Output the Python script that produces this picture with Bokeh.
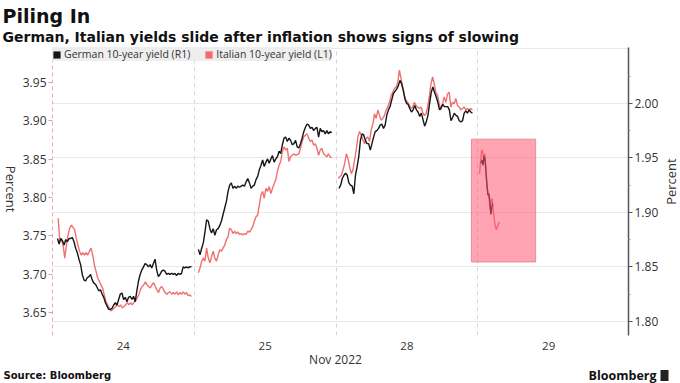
import numpy as np
from bokeh.plotting import figure
from bokeh.layouts import column, row
from bokeh.models import (Range1d, LinearAxis, FixedTicker, Label, Legend,
                          LegendItem, NumeralTickFormatter)
from bokeh.embed import file_html
from bokeh.resources import INLINE

# ---------------- data ----------------
day_labels = ["24", "25", "28", "29"]
axis_month = "Nov 2022"

# Italian 10-year yield (left axis, %)
italian_24 = [3.773, 3.743, 3.745, 3.738, 3.721, 3.738, 3.751, 3.760, 3.764, 3.761,
              3.758, 3.747, 3.738, 3.730, 3.725, 3.728, 3.725, 3.728, 3.725, 3.730,
              3.734, 3.725, 3.712, 3.704, 3.695, 3.691, 3.686, 3.682, 3.673, 3.665,
              3.660, 3.656, 3.652, 3.654, 3.656, 3.658, 3.660, 3.658, 3.660, 3.656,
              3.658, 3.660, 3.663, 3.660, 3.663, 3.660, 3.663, 3.665, 3.669, 3.673,
              3.680, 3.684, 3.686, 3.690, 3.686, 3.684, 3.682, 3.686, 3.689, 3.684,
              3.680, 3.676, 3.682, 3.684, 3.680, 3.676, 3.674, 3.676, 3.677, 3.674,
              3.676, 3.674, 3.677, 3.673, 3.676, 3.674, 3.677, 3.674, 3.676, 3.672,
              3.673, 3.671]
italian_25 = [3.702, 3.708, 3.717, 3.721, 3.717, 3.734, 3.721, 3.715, 3.723, 3.730,
              3.721, 3.717, 3.725, 3.732, 3.730, 3.734, 3.738, 3.745, 3.749, 3.760,
              3.758, 3.753, 3.756, 3.753, 3.755, 3.752, 3.753, 3.751, 3.753, 3.752,
              3.756, 3.755, 3.758, 3.762, 3.769, 3.775, 3.777, 3.790, 3.803, 3.808,
              3.799, 3.812, 3.808, 3.814, 3.805, 3.812, 3.818, 3.823, 3.834, 3.842,
              3.847, 3.860, 3.866, 3.862, 3.864, 3.847, 3.853, 3.855, 3.857, 3.855,
              3.856, 3.857, 3.864, 3.873, 3.879, 3.881, 3.883, 3.877, 3.873, 3.875,
              3.868, 3.870, 3.864, 3.855, 3.862, 3.864, 3.857, 3.855, 3.853, 3.857,
              3.853, 3.852]
italian_28 = [3.825, 3.827, 3.829, 3.836, 3.844, 3.857, 3.851, 3.840, 3.831, 3.836,
              3.849, 3.862, 3.879, 3.886, 3.881, 3.875, 3.870, 3.877, 3.879, 3.873,
              3.888, 3.896, 3.909, 3.903, 3.914, 3.907, 3.901, 3.903, 3.907, 3.914,
              3.918, 3.924, 3.933, 3.937, 3.942, 3.944, 3.950, 3.966, 3.955, 3.944,
              3.933, 3.927, 3.924, 3.920, 3.916, 3.918, 3.924, 3.920, 3.918, 3.916,
              3.918, 3.911, 3.907, 3.909, 3.918, 3.931, 3.948, 3.957, 3.948, 3.937,
              3.933, 3.922, 3.914, 3.922, 3.931, 3.924, 3.935, 3.937, 3.918, 3.924,
              3.922, 3.929, 3.920, 3.918, 3.914, 3.916, 3.918, 3.914, 3.916, 3.914,
              3.916, 3.914]
italian_29 = [3.831, 3.849, 3.862, 3.860, 3.847, 3.857, 3.838, 3.816, 3.805, 3.799,
              3.784, 3.792, 3.799, 3.784, 3.773, 3.764, 3.758, 3.761, 3.765, 3.768]

# German 10-year yield (right axis, %)
german_24 = [1.876, 1.871, 1.876, 1.874, 1.870, 1.875, 1.873, 1.876, 1.876, 1.877,
             1.873, 1.867, 1.863, 1.857, 1.852, 1.843, 1.838, 1.837, 1.840, 1.841,
             1.843, 1.838, 1.835, 1.834, 1.831, 1.828, 1.829, 1.825, 1.822, 1.817,
             1.814, 1.811, 1.811, 1.812, 1.815, 1.817, 1.815, 1.820, 1.825, 1.826,
             1.820, 1.822, 1.818, 1.822, 1.823, 1.820, 1.823, 1.818, 1.828, 1.837,
             1.843, 1.847, 1.850, 1.853, 1.852, 1.850, 1.852, 1.849, 1.853, 1.857,
             1.847, 1.841, 1.843, 1.846, 1.847, 1.846, 1.843, 1.844, 1.843, 1.844,
             1.843, 1.844, 1.842, 1.844, 1.843, 1.844, 1.850, 1.849, 1.850, 1.849,
             1.850, 1.850]
german_25 = [1.866, 1.861, 1.867, 1.872, 1.882, 1.893, 1.892, 1.885, 1.881, 1.885,
             1.879, 1.884, 1.885, 1.888, 1.892, 1.898, 1.904, 1.910, 1.919, 1.925,
             1.927, 1.922, 1.924, 1.922, 1.924, 1.923, 1.924, 1.925, 1.924, 1.928,
             1.931, 1.927, 1.922, 1.924, 1.925, 1.930, 1.933, 1.939, 1.943, 1.948,
             1.942, 1.946, 1.949, 1.945, 1.949, 1.952, 1.946, 1.949, 1.951, 1.956,
             1.954, 1.962, 1.968, 1.969, 1.965, 1.968, 1.966, 1.962, 1.963, 1.966,
             1.960, 1.959, 1.963, 1.968, 1.974, 1.978, 1.981, 1.980, 1.977, 1.978,
             1.975, 1.977, 1.978, 1.969, 1.977, 1.974, 1.975, 1.972, 1.975, 1.972,
             1.974, 1.973]
german_28 = [1.922, 1.925, 1.931, 1.934, 1.936, 1.934, 1.927, 1.925, 1.924, 1.917,
             1.934, 1.942, 1.951, 1.966, 1.972, 1.971, 1.966, 1.963, 1.963, 1.957,
             1.963, 1.969, 1.974, 1.975, 1.977, 1.980, 1.981, 1.977, 1.980, 1.989,
             1.994, 1.997, 2.003, 2.009, 2.011, 2.013, 2.016, 2.021, 2.018, 2.012,
             2.004, 2.000, 1.999, 1.995, 1.992, 1.994, 1.998, 1.994, 1.992, 1.988,
             1.991, 1.985, 1.979, 1.983, 1.989, 2.000, 2.010, 2.015, 2.010, 2.006,
             2.001, 1.994, 1.996, 1.999, 1.997, 1.997, 1.997, 1.994, 1.984, 1.987,
             1.991, 1.989, 1.988, 1.984, 1.983, 1.984, 1.991, 1.993, 1.991, 1.994,
             1.992, 1.991]
german_29 = [1.945, 1.948, 1.943, 1.952, 1.949, 1.937, 1.925, 1.916, 1.917, 1.910,
             1.898, 1.905, 1.908]

# session windows (fraction of each trading day covered by quotes)
italian_sessions = [(0.040, 0.980), (0.029, 0.970), (0.014, 0.962), (0.013, 0.152)]
german_sessions = [(0.035, 0.980), (0.029, 0.970), (0.021, 0.962), (0.023, 0.106)]

left_ticks = [3.65, 3.70, 3.75, 3.80, 3.85, 3.90, 3.95]
right_ticks = [1.80, 1.85, 1.90, 1.95, 2.00]
right_minor = [1.825, 1.875, 1.925, 1.975, 2.025]
right_grid = [1.80, 1.85, 1.90, 1.95, 2.00, 2.05]

# highlight box (day units, Italian yield units)
box_start, box_end = 2.955, 3.408
box_low, box_high = 3.716, 3.876

RED = "#f07070"
BLACK = "#161616"
TXT = "#333333"
FONT = "Open Sans"
W = 680
HEAD_H, MAIN_H, FOOT_H = 47, 305, 31
LEFT_W, RIGHT_W = 19, 19


def text_panel(width, height):
    f = figure(width=width, height=height, output_backend="svg", toolbar_location=None,
               x_range=Range1d(0, width), y_range=Range1d(height, 0),
               min_border=0, outline_line_color=None)
    f.axis.visible = False
    f.grid.visible = False
    return f


def lab(f, x, y, text, size, bold=False, align="left", font=FONT, color=TXT, angle=0.0):
    f.add_layout(Label(x=x, y=y, text=text, text_font=font, text_font_size=size,
                       text_font_style="bold" if bold else "normal", angle=angle,
                       text_align=align, text_baseline="middle", text_color=color))


# ---------------- header ----------------
head = text_panel(W, HEAD_H)
lab(head, 2, 15, "Piling In", "19px", bold=True, font="DejaVu Sans", color="#111111")
lab(head, 2, 36, "German, Italian yields slide after inflation shows signs of slowing",
    "14px", bold=True, font="DejaVu Sans", color="#111111")

# ---------------- side labels ----------------
left_side = text_panel(LEFT_W, MAIN_H)
lab(left_side, 10, 150, "Percent", "13px", align="center", angle=-np.pi / 2)
right_side = text_panel(RIGHT_W, MAIN_H)
lab(right_side, 9.5, 142, "Percent", "13px", align="center", angle=np.pi / 2)

# ---------------- main chart ----------------
p = figure(width=W - LEFT_W - RIGHT_W, height=MAIN_H, output_backend="svg",
           toolbar_location=None,
           x_range=Range1d(0, 4.063), y_range=Range1d(3.6201, 3.9955),
           min_border_left=49 - LEFT_W, min_border_right=W - RIGHT_W - 632,
           min_border_top=0, min_border_bottom=16)
p.extra_y_ranges = {"german": Range1d(1.7870, 2.0512)}
p.outline_line_color = None

p.ygrid.ticker = FixedTicker(ticks=right_grid)
p.ygrid.y_range_name = "german"
p.ygrid.grid_line_color = "#e9e9e9"
p.xgrid.ticker = FixedTicker(ticks=[1, 2, 3])
p.xgrid.grid_line_color = "#d5d5d5"
p.xgrid.grid_line_dash = "4 4"

p.xaxis.ticker = FixedTicker(ticks=[0.5, 1.5, 2.5, 3.5])
p.xaxis.major_label_overrides = {0.5 + i: d for i, d in enumerate(day_labels)}
p.xaxis.axis_line_color = None
p.xaxis.major_tick_line_color = None
p.xaxis.minor_tick_line_color = None
p.xaxis.major_label_standoff = 0
p.xaxis.major_label_text_font = FONT
p.xaxis.major_label_text_font_size = "11.5px"
p.xaxis.major_label_text_color = TXT

p.yaxis.ticker = FixedTicker(ticks=left_ticks)
p.yaxis.formatter = NumeralTickFormatter(format="0.00")
p.yaxis.axis_line_color = "#f2aaaa"
p.yaxis.axis_line_dash = "4 3"
p.yaxis.major_tick_line_color = "#e0a0a0"
p.yaxis.major_tick_out = 4
p.yaxis.major_tick_in = 0
p.yaxis.minor_tick_line_color = None
p.yaxis.major_label_standoff = 2
p.yaxis.major_label_text_font = FONT
p.yaxis.major_label_text_font_size = "12px"
p.yaxis.major_label_text_color = TXT

rax = LinearAxis(y_range_name="german",
                 ticker=FixedTicker(ticks=right_ticks, minor_ticks=right_minor),
                 formatter=NumeralTickFormatter(format="0.00"))
rax.axis_line_color = "#555555"
rax.axis_line_width = 1.5
rax.major_tick_line_color = "#555555"
rax.major_tick_out = 4
rax.major_tick_in = 0
rax.minor_tick_line_color = "#999999"
rax.minor_tick_out = 2
rax.minor_tick_in = 0
rax.major_label_standoff = 2
rax.major_label_text_font = FONT
rax.major_label_text_font_size = "12px"
rax.major_label_text_color = TXT
p.add_layout(rax, "right")

for k, (vals, (s, e)) in enumerate(zip([italian_24, italian_25, italian_28, italian_29],
                                        italian_sessions)):
    xs = k + np.linspace(s, e, len(vals))
    p.line(xs, vals, color=RED, line_width=1.4)
for k, (vals, (s, e)) in enumerate(zip([german_24, german_25, german_28, german_29],
                                        german_sessions)):
    xs = k + np.linspace(s, e, len(vals))
    p.line(xs, vals, color=BLACK, line_width=1.4, y_range_name="german")

p.quad(left=[box_start], right=[box_end], bottom=[box_low], top=[box_high],
       fill_color="#ff5a74", fill_alpha=0.55, line_color="#e58c9a", line_width=1)

# legend swatches: hidden area renderers so the legend draws solid squares
g_sw = p.quad(left=[box_start], right=[box_end], bottom=[box_low], top=[box_high],
              fill_color=BLACK, line_color=None, visible=False)
i_sw = p.quad(left=[box_start], right=[box_end], bottom=[box_low], top=[box_high],
              fill_color="#f26a6a", line_color=None, visible=False)
legend = Legend(items=[LegendItem(label="German 10-year yield (R1)", renderers=[g_sw]),
                       LegendItem(label="Italian 10-year yield (L1)", renderers=[i_sw])],
                location="top_left", orientation="horizontal",
                background_fill_color="#ececec", background_fill_alpha=0.9,
                border_line_color=None, margin=0, padding=5, spacing=14,
                glyph_width=9, glyph_height=9, label_standoff=3,
                label_text_font=FONT, label_text_font_size="10.5px",
                label_text_color=TXT, label_height=13,
                inactive_fill_alpha=0.0)
p.add_layout(legend, "center")

# ---------------- footer ----------------
foot = text_panel(W, FOOT_H)
lab(foot, 335, 7, axis_month, "12px", align="center")
lab(foot, 3, 23, "Source: Bloomberg", "10px", bold=True, font="DejaVu Sans",
    color="#111111")
lab(foot, 656, 23, "Bloomberg", "12.5px", bold=True, align="right", color="#111111")
foot.rect(x=[664], y=[23], width=8, height=11, fill_color="#222222", line_color=None)

layout = column(head, row(left_side, p, right_side, spacing=0), foot, spacing=0)
open("out.html", "w").write(file_html(layout, INLINE))
